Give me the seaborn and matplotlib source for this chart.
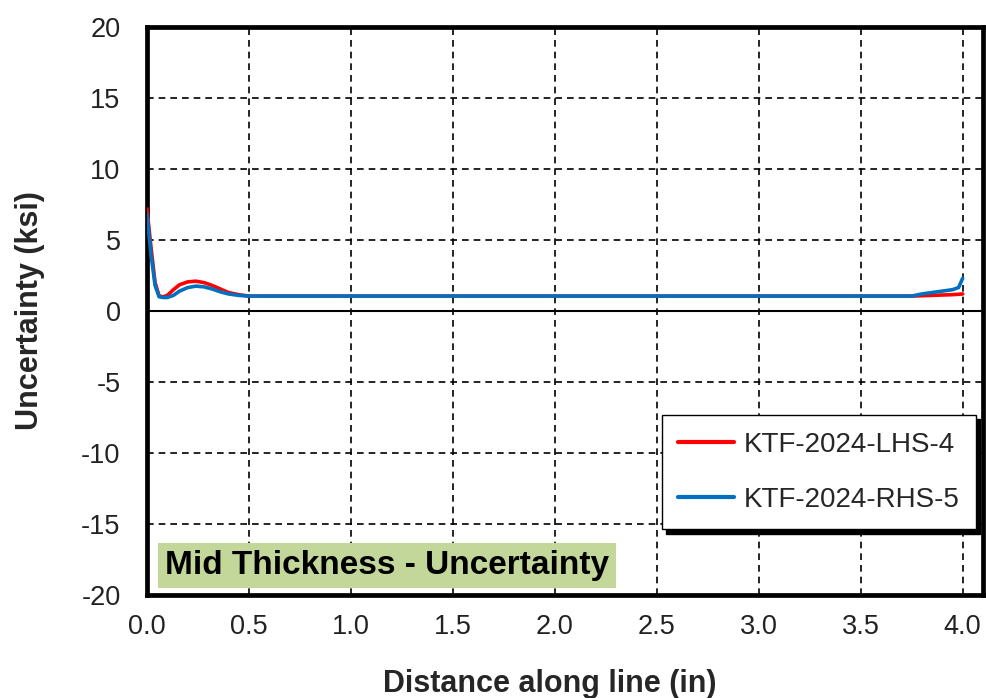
import numpy as np
import pandas as pd
import matplotlib
matplotlib.use("Agg")
import matplotlib.pyplot as plt
import seaborn as sns

# distance along line (in) and uncertainty (ksi)
dist_lhs = [0.0, 0.02, 0.04, 0.06, 0.08, 0.10, 0.13, 0.16, 0.20, 0.24, 0.28, 0.32,
            0.36, 0.40, 0.45, 0.50, 0.75, 1.0, 1.5, 2.0, 2.5, 3.0, 3.5, 3.75,
            3.85, 3.95, 4.0]
unc_lhs = [7.2, 4.5, 2.0, 1.05, 1.0, 1.1, 1.5, 1.85, 2.05, 2.1, 2.0, 1.8,
           1.55, 1.3, 1.15, 1.05, 1.05, 1.05, 1.05, 1.05, 1.05, 1.05, 1.05, 1.05,
           1.1, 1.15, 1.2]

dist_rhs = [0.0, 0.02, 0.04, 0.06, 0.08, 0.10, 0.13, 0.16, 0.20, 0.24, 0.28, 0.32,
            0.36, 0.40, 0.45, 0.50, 0.75, 1.0, 1.5, 2.0, 2.5, 3.0, 3.5, 3.75,
            3.80, 3.85, 3.90, 3.95, 3.98, 4.0]
unc_rhs = [6.8, 4.0, 1.8, 1.0, 0.95, 0.95, 1.1, 1.4, 1.65, 1.75, 1.7, 1.55,
           1.35, 1.2, 1.1, 1.05, 1.05, 1.05, 1.05, 1.05, 1.05, 1.05, 1.05, 1.05,
           1.2, 1.3, 1.4, 1.5, 1.65, 2.3]

series_names = ["KTF-2024-LHS-4", "KTF-2024-RHS-5"]
series_colors = ["#ff0000", "#0070c0"]

x_ticks = [0.0, 0.5, 1.0, 1.5, 2.0, 2.5, 3.0, 3.5, 4.0]
y_ticks = [-20, -15, -10, -5, 0, 5, 10, 15, 20]

df = pd.concat([
    pd.DataFrame({"dist": dist_lhs, "unc": unc_lhs, "series": series_names[0]}),
    pd.DataFrame({"dist": dist_rhs, "unc": unc_rhs, "series": series_names[1]}),
])

sns.set_style("white")
plt.rcParams["font.family"] = ["Liberation Sans", "DejaVu Sans"]
plt.rcParams["axes.unicode_minus"] = False

fig = plt.figure(figsize=(9.86, 6.98), dpi=100)
ax = fig.add_axes([0.149, 0.1476, 0.848, 0.8137])

# grid and zero line
for xv in x_ticks[1:]:
    ax.axvline(xv, color="black", lw=1.2, ls=(0, (4, 3)), zorder=1)
for yv in y_ticks[1:]:
    if yv != 0:
        ax.axhline(yv, color="black", lw=1.2, ls=(0, (4, 3)), zorder=1)
ax.axhline(0, color="black", lw=1.5, zorder=2)

sns.lineplot(data=df, x="dist", y="unc", hue="series", palette=series_colors,
             hue_order=series_names, linewidth=2.6, ax=ax, zorder=3,
             sort=False, estimator=None)

ax.set_xlim(0, 4.1)
ax.set_ylim(-20, 20)
ax.set_xticks(x_ticks)
ax.set_xticklabels(["%.1f" % v for v in x_ticks])
ax.set_yticks(y_ticks)
ax.tick_params(axis="x", length=0, pad=14, labelsize=19.5, labelcolor="#222222")
ax.tick_params(axis="y", length=0, pad=19, labelsize=19.5, labelcolor="#222222")

for s in ax.spines.values():
    s.set_visible(True)
    s.set_color("black")
    s.set_linewidth(3.4)

ax.set_xlabel("Distance along line (in)", fontsize=22, fontweight="bold")
ax.set_ylabel("Uncertainty (ksi)", fontsize=22, fontweight="bold")
ax.xaxis.set_label_coords(0.482, -0.13)
ax.yaxis.set_label_coords(-0.122, 0.5)

leg = ax.legend(loc="upper right", bbox_to_anchor=(0.9916, 0.317), fontsize=20,
                frameon=True, fancybox=False,
                shadow={"ox": 3, "oy": -3, "color": "black", "alpha": 1.0},
                edgecolor="black", handlelength=2.0, labelspacing=1.05,
                borderpad=0.6, handletextpad=0.35, borderaxespad=0)
leg.get_frame().set_linewidth(1.0)
for line in leg.get_lines():
    line.set_linewidth(3.0)

ax.text(0.287, 0.052, "Mid Thickness - Uncertainty", transform=ax.transAxes,
        ha="center", va="center", fontsize=24, fontweight="bold", color="black",
        bbox=dict(boxstyle="square,pad=0.2", facecolor="#c4d79b", edgecolor="none"),
        zorder=5)

plt.savefig("out.png", dpi=100)
